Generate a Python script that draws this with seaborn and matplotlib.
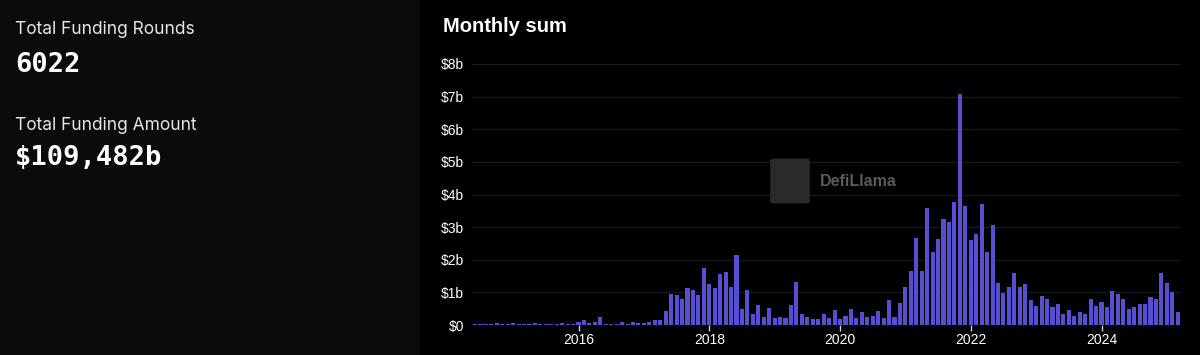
import numpy as np
import pandas as pd
import matplotlib
matplotlib.use("Agg")
import matplotlib.pyplot as plt
from matplotlib.patches import Rectangle, FancyBboxPatch
import seaborn as sns

# Monthly funding sum in $b, 2014-06 .. 2025-03
start_month = "2014-06"
year_ticks = [2016, 2018, 2020, 2022, 2024]
y_ticks = [0, 1, 2, 3, 4, 5, 6, 7, 8]

amounts_2014 = [0.03, 0.02, 0.03, 0.02, 0.06, 0.03, 0.03]
amounts_2015 = [0.06, 0.03, 0.02, 0.04, 0.06, 0.02, 0.02, 0.03, 0.02, 0.06, 0.02, 0.02]
amounts_2016 = [0.10, 0.15, 0.05, 0.08, 0.25, 0.04, 0.03, 0.03, 0.08, 0.03, 0.08, 0.07]
amounts_2017 = [0.07, 0.08, 0.16, 0.16, 0.42, 0.94, 0.92, 0.80, 1.12, 1.06, 0.91, 1.75]
amounts_2018 = [1.25, 1.12, 1.57, 1.62, 1.16, 2.15, 0.49, 1.08, 0.34, 0.61, 0.24, 0.53]
amounts_2019 = [0.20, 0.26, 0.20, 0.61, 1.31, 0.34, 0.25, 0.18, 0.18, 0.34, 0.22, 0.46]
amounts_2020 = [0.17, 0.28, 0.48, 0.20, 0.39, 0.26, 0.28, 0.43, 0.20, 0.77, 0.26, 0.66]
amounts_2021 = [1.18, 1.66, 2.66, 1.64, 3.58, 2.25, 2.64, 3.24, 3.15, 3.76, 7.07, 3.66]
amounts_2022 = [2.61, 2.79, 3.70, 2.23, 3.07, 1.30, 0.97, 1.16, 1.60, 1.15, 1.26, 0.77]
amounts_2023 = [0.58, 0.89, 0.80, 0.54, 0.63, 0.34, 0.46, 0.28, 0.39, 0.34, 0.80, 0.59]
amounts_2024 = [0.72, 0.54, 1.05, 0.95, 0.79, 0.48, 0.54, 0.65, 0.65, 0.87, 0.79, 1.59]
amounts_2025 = [1.28, 1.02, 0.39]

values = (amounts_2014 + amounts_2015 + amounts_2016 + amounts_2017 + amounts_2018
          + amounts_2019 + amounts_2020 + amounts_2021 + amounts_2022 + amounts_2023
          + amounts_2024 + amounts_2025)
months = pd.period_range(start_month, periods=len(values), freq="M")
df = pd.DataFrame({"month": months.astype(str), "amount": values})

BAR = "#574ed2"
PANEL = "#0a0b0d"

sns.set_theme(style="dark")
plt.rcParams["font.family"] = ["Liberation Sans", "DejaVu Sans"]

fig = plt.figure(figsize=(12, 3.55), dpi=100)
fig.patch.set_facecolor("#000000")
fig.add_artist(Rectangle((0, 0), 420 / 1200, 1, transform=fig.transFigure,
                         facecolor=PANEL, edgecolor="none", zorder=0))

# left stats panel
fig.text(15 / 1200, 1 - 30 / 355, "Total Funding Rounds", family="Inter",
         fontsize=12.5, color="#e6e6e6", va="center")
fig.text(15 / 1200, 1 - 65 / 355, "6022", family="DejaVu Sans Mono",
         fontweight="bold", fontsize=19.5, color="#ffffff", va="center")
fig.text(15 / 1200, 1 - 125 / 355, "Total Funding Amount", family="Inter",
         fontsize=12.5, color="#e6e6e6", va="center")
fig.text(15 / 1200, 1 - 158 / 355, "$109,482b", family="DejaVu Sans Mono",
         fontweight="bold", fontsize=19.5, color="#ffffff", va="center")

fig.text(443 / 1200, 1 - 26 / 355, "Monthly sum", fontweight="bold",
         fontsize=14.5, color="#ffffff", va="center")

ax = fig.add_axes([472.3 / 1200, 1 - 325 / 355, 708.2 / 1200, 261 / 355])
ax.set_facecolor("#000000")
sns.barplot(data=df, x="month", y="amount", color=BAR, saturation=1,
            width=0.75, linewidth=0, edgecolor="none", ax=ax, zorder=3)

ax.set_ylim(0, 8)
ax.set_xlim(-0.5, len(values) - 0.5)
ax.set_yticks(y_ticks)
ax.set_yticklabels([f"${v}b" if v else "$0" for v in y_ticks])
tick_pos = [list(df["month"]).index(f"{y}-01") for y in year_ticks]
ax.set_xticks(tick_pos)
ax.set_xticklabels([str(y) for y in year_ticks])
ax.set_xlabel("")
ax.set_ylabel("")
ax.grid(axis="y", color="#171717", linewidth=1, zorder=0)
ax.grid(axis="x", visible=False)
for s in ax.spines.values():
    s.set_visible(False)
ax.tick_params(axis="y", length=0, pad=6, labelsize=10, labelcolor="#ffffff")
ax.tick_params(axis="x", length=4, width=1, color="#d0d0d0", pad=2,
               labelsize=10, labelcolor="#ffffff", direction="out", bottom=True)

# watermark
fig.add_artist(FancyBboxPatch((775 / 1200, 1 - 202 / 355), 30 / 1200, 42 / 355,
                              boxstyle="round,pad=0.004", transform=fig.transFigure,
                              facecolor="#2a2a2a", edgecolor="none", zorder=5))
fig.text(820 / 1200, 1 - 181 / 355, "DefiLlama", fontsize=11.5, fontweight="bold",
         color="#5a5a5a", va="center", zorder=6)

fig.savefig("out.png", dpi=100, facecolor=fig.get_facecolor())
